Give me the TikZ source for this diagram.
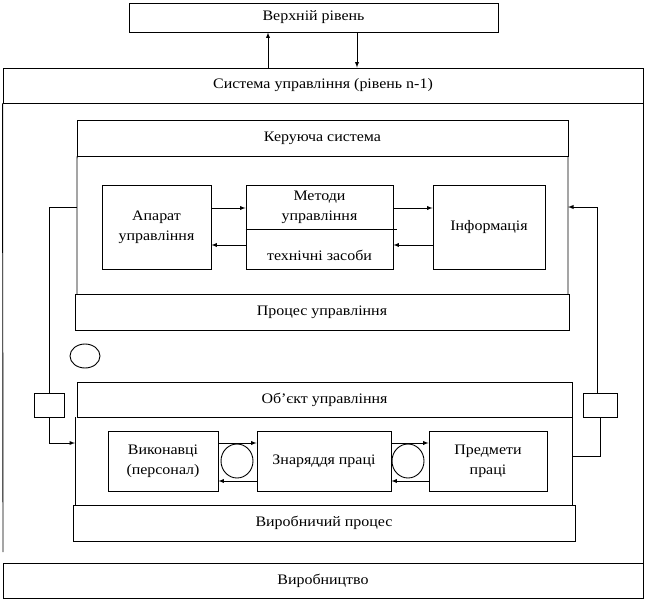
\documentclass[tikz,border=0pt]{standalone}
\usepackage{fontspec}
\setmainfont[FakeStretch=1.1]{Liberation Serif}
\usetikzlibrary{shapes.geometric}

\begin{document}
\begin{tikzpicture}[x=1pt, y=-1pt, >=latex, line width=0.9pt, every node/.style={font=\fontsize{14.5}{20}\selectfont}]
    \useasboundingbox (0,0) rectangle (646,603);

    % Upper level
    \node[draw, rectangle, minimum width=369pt, minimum height=29pt] (upper) at (313.5,17.5) {Верхній рівень};

    % System (level n-1)
    \node[draw, rectangle, minimum width=640pt, minimum height=35pt] (system) at (323,85.5) {Система управління (рівень n-1)};
    \draw (system.south west) -- (3,552);
    \node[draw, rectangle, minimum width=640pt, minimum height=35pt] (production) at (323,580.5) {Виробництво};
    \draw (system.south east) -- (production.north east);

    % Arrows
    \draw[->] ([xshift=-55pt]system.north) -- ([xshift=-45.5pt]upper.south);
    \draw[->] ([xshift=43.5pt]upper.south) -- ([xshift=34pt]system.north);

    % Control system
    \node[draw, rectangle, minimum width=491pt, minimum height=36pt] (ctrl-label) at (322.5,138) {Керуюча система};
    \node[draw, rectangle, minimum width=494pt, minimum height=36pt] (ctrl-process) at (322,312) {Процес управління};
    \draw ([xshift=0.5pt]ctrl-label.south west) -- (77,294);
    \draw ([xshift=-0.5pt]ctrl-label.south east) -- (568,294);

    \node[draw, rectangle, minimum width=109pt, minimum height=84pt, align=center] (apparatus) at (156.5,227) {Апарат\\управління};
    \node[draw, rectangle, minimum width=147pt, minimum height=84pt] (methods) at (319.5,227) {};
    \node[align=center] (methods-top) at (319.5,207) {Методи\\управління};
    \node (methods-bottom) at (319.5,255) {технічні засоби};
    \draw ([yshift=-2pt]methods.west) -- ([xshift=4pt, yshift=-2pt]methods.east);
    \node[draw, rectangle, minimum width=112pt, minimum height=84pt] (info) at (489,227) {Інформація};

    % Arrow
    \draw[->] ([yshift=19pt]apparatus.east) -- ([yshift=19pt]methods.west);
    \draw[->] ([yshift=19pt]methods.east) -- ([yshift=19pt]info.west);
    \draw[->] ([yshift=-18pt]info.west) -- ([yshift=-18pt]methods.east);
    \draw[->] ([yshift=-18pt]methods.west) -- ([yshift=-18pt]apparatus.east);

    \node[draw, ellipse, minimum width=30pt, minimum height=24pt] (mark) at (85,356) {};

    % Feedback
    \node[draw, rectangle, minimum width=30pt, minimum height=24pt] (left-box) at (49,405) {};
    \node[draw, rectangle, minimum width=34pt, minimum height=24pt] (right-box) at (600,405) {};
    \coordinate (left-out) at (77,207);
    \coordinate (right-in) at (568,207);
    \coordinate (left-in) at (75,443);
    \coordinate (right-out) at (572,456);
    \draw (left-box.north) |- (left-out);
    \draw[->] (left-box.south) |- (left-in);
    \draw[->] ([xshift=-3pt]right-box.north) |- (right-in);
    \draw (right-out) -| (right-box.south);

    % Controlled object
    \node[draw, rectangle, minimum width=495pt, minimum height=35pt] (object) at (324.5,399.5) {Об’єкт управління};
    \node[draw, rectangle, minimum width=502pt, minimum height=36pt] (work-process) at (324,523) {Виробничий процес};
    \draw (75,417) -- (75,505);
    \draw (object.south east) -- ([xshift=-3pt]work-process.north east);

    \node[draw, rectangle, minimum width=110pt, minimum height=60pt, align=center] (workers) at (163,461) {Виконавці\\(персонал)};
    \node[draw, rectangle, minimum width=134pt, minimum height=60pt] (tools) at (324,461) {Знаряддя праці};
    \node[draw, rectangle, minimum width=118pt, minimum height=60pt, align=center] (items) at (488,461) {Предмети\\праці};

    % Arrow
    \draw[->] ([yshift=18pt]workers.east) -- ([yshift=18pt]tools.west);
    \draw[->] ([yshift=-20pt]tools.west) -- ([yshift=-20pt]workers.east);
    \draw[->] ([yshift=18pt]tools.east) -- ([yshift=18pt]items.west);
    \draw[->] ([yshift=-20pt]items.west) -- ([yshift=-20pt]tools.east);
    \node[draw, ellipse, minimum width=32pt, minimum height=34pt] (loop1) at (237,461) {};
    \node[draw, ellipse, minimum width=32pt, minimum height=34pt] (loop2) at (408,461) {};
\end{tikzpicture}
\end{document}
